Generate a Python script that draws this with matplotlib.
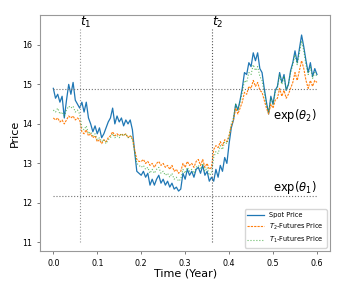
import numpy as np
import matplotlib
matplotlib.use("Agg")
import matplotlib.pyplot as plt

t = np.arange(121) * 0.005

spot = [14.90, 14.65, 14.75, 14.55, 14.70, 14.15, 14.60, 15.00, 14.75, 15.05,
        14.60, 14.50, 14.40, 14.55, 14.30, 14.55, 14.15, 14.00, 13.80, 13.95,
        13.75, 13.90, 13.65, 13.75, 13.90, 14.05, 14.15, 14.40, 14.00, 14.20,
        14.05, 14.15, 13.95, 14.10, 14.00, 14.10, 13.85, 13.30, 12.80, 12.75,
        12.70, 12.80, 12.65, 12.75, 12.45, 12.60, 12.45, 12.60, 12.70, 12.50,
        12.60, 12.45, 12.55, 12.40, 12.50, 12.35, 12.40, 12.30, 12.35, 12.75,
        12.60, 12.85, 12.70, 12.80, 12.65, 12.85, 12.90, 12.75, 12.95, 12.70,
        12.80, 12.55, 12.65, 12.55, 12.85, 12.65, 12.95, 12.80, 13.15, 13.00,
        13.50, 13.90, 14.10, 14.50, 14.35, 14.60, 14.90, 15.30, 15.25, 15.55,
        15.45, 15.80, 15.60, 15.80, 15.40, 15.30, 14.90, 14.55, 14.25, 14.70,
        14.50, 14.85, 14.95, 15.30, 15.05, 15.25, 14.85, 15.00, 15.35, 15.55,
        15.85, 15.55, 15.90, 16.25, 15.95, 15.60, 15.30, 15.55, 15.20, 15.40,
        15.25]

fut_T1 = [14.35, 14.30, 14.40, 14.25, 14.30, 14.20, 14.35, 14.45, 14.40, 14.45,
          14.30, 14.35, 14.25, 13.90, 13.85, 13.95, 13.75, 13.80, 13.70, 13.75,
          13.60, 13.65, 13.55, 13.60, 13.50, 13.60, 13.65, 13.75, 13.65, 13.70,
          13.65, 13.75, 13.70, 13.75, 13.65, 13.70, 13.60, 13.30, 13.00, 12.95,
          12.90, 12.95, 12.85, 12.90, 12.75, 12.85, 12.75, 12.85, 12.90, 12.75,
          12.80, 12.70, 12.75, 12.65, 12.75, 12.60, 12.65, 12.55, 12.60, 12.85,
          12.75, 12.90, 12.80, 12.85, 12.75, 12.90, 12.95, 12.85, 13.00, 12.80,
          12.90, 12.70, 12.75, 13.15, 13.30, 13.25, 13.45, 13.35, 13.55, 13.50,
          13.70, 14.00, 14.15, 14.50, 14.35, 14.55, 14.80, 15.10, 15.05, 15.30,
          15.25, 15.50, 15.35, 15.45, 15.20, 15.10, 14.80, 14.50, 14.30, 14.65,
          14.50, 14.80, 14.90, 15.25, 15.00, 15.20, 14.85, 15.00, 15.30, 15.50,
          15.75, 15.50, 15.80, 16.10, 15.85, 15.50, 15.25, 15.45, 15.15, 15.30,
          15.20]

fut_T2 = [14.15, 14.10, 14.15, 14.05, 14.10, 14.00, 14.10, 14.20, 14.15, 14.20,
          14.10, 14.15, 14.10, 13.80, 13.75, 13.85, 13.70, 13.75, 13.65, 13.70,
          13.55, 13.60, 13.50, 13.60, 13.55, 13.65, 13.70, 13.80, 13.70, 13.75,
          13.70, 13.75, 13.70, 13.75, 13.65, 13.70, 13.65, 13.35, 13.10, 13.05,
          13.05, 13.10, 13.00, 13.05, 12.95, 13.00, 12.90, 13.00, 13.05, 12.95,
          13.00, 12.90, 12.95, 12.85, 12.95, 12.80, 12.85, 12.75, 12.80, 13.00,
          12.90, 13.05, 12.95, 13.00, 12.90, 13.05, 13.10, 12.95, 13.10, 12.90,
          13.00, 12.85, 12.90, 13.35, 13.45, 13.40, 13.55, 13.45, 13.60, 13.55,
          13.70, 13.95, 14.10, 14.40, 14.25, 14.40, 14.55, 14.80, 14.75, 14.95,
          14.90, 15.10, 14.95, 15.05, 14.85, 14.80, 14.60, 14.40, 14.25, 14.50,
          14.40, 14.60, 14.65, 14.90, 14.70, 14.85, 14.65, 14.75, 14.90, 15.05,
          15.30, 15.10, 15.35, 15.60, 15.40, 15.10, 14.90, 15.10, 14.95, 15.10,
          15.05]

t1, t2 = 0.06, 0.36
theta1_exp, theta2_exp = 12.18, 14.88
xticks = [0.0, 0.1, 0.2, 0.3, 0.4, 0.5, 0.6]
yticks = [11, 12, 13, 14, 15, 16]

fig = plt.figure(figsize=(3.49, 2.86), dpi=100)
ax = fig.add_axes([0.115, 0.122, 0.831, 0.826])

ax.plot(t, spot, color='C0', lw=0.9, label='Spot Price')
ax.plot(t, fut_T2, color='C1', lw=0.8, ls='--', dashes=(2, 1), label='$T_2$-Futures Price')
ax.plot(t, fut_T1, color='C2', lw=0.8, ls=':', alpha=0.7, label='$T_1$-Futures Price')

ax.vlines(t1, 11, 16.4, colors='0.6', linestyles=':', lw=0.8)
ax.vlines(t2, 11, 16.4, colors='0.35', linestyles=':', lw=0.8)
ax.hlines(theta2_exp, 0, 0.6, colors='0.45', linestyles=':', lw=0.8)
ax.hlines(theta1_exp, 0, 0.6, colors='0.45', linestyles=':', lw=0.8)

ax.text(t1, 16.38, '$t_1$', fontsize=9, ha='left', va='bottom')
ax.text(t2, 16.38, '$t_2$', fontsize=9, ha='left', va='bottom')
ax.text(0.5, 14.22, r'exp($\theta_2$)', fontsize=8.3, ha='left', va='center')
ax.text(0.5, 12.38, r'exp($\theta_1$)', fontsize=8.3, ha='left', va='center')

ax.set_xlim(-0.03, 0.63)
ax.set_ylim(10.78, 16.76)
ax.set_xticks(xticks)
ax.set_yticks(yticks)
ax.tick_params(labelsize=5.8, length=2.5, width=0.6, color='0.4')
ax.set_xlabel('Time (Year)', fontsize=8, labelpad=0)
ax.set_ylabel('Price', fontsize=8, labelpad=1)
for s in ax.spines.values():
    s.set_color('0.6')
    s.set_linewidth(0.8)

ax.legend(loc='lower right', fontsize=4.8, framealpha=0.8, handlelength=2.5)

fig.savefig('out.png', dpi=100)
